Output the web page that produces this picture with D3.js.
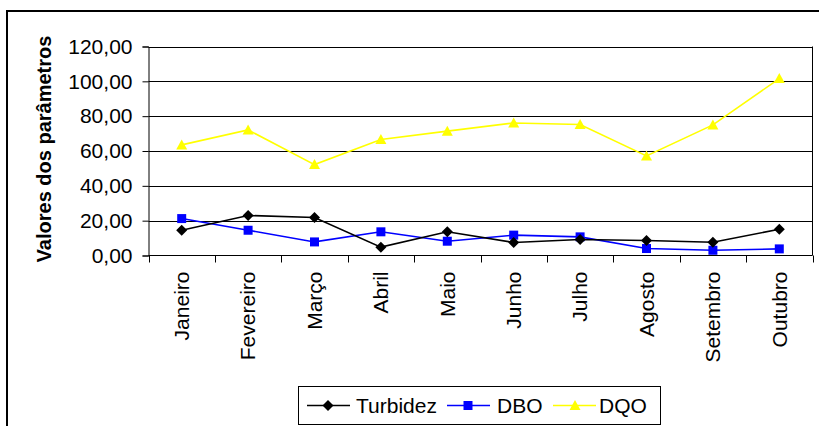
<!DOCTYPE html>
<html><head><meta charset="utf-8">
<script src="https://cdn.jsdelivr.net/npm/d3@7"></script>
<style>body{margin:0;background:#fff}svg{display:block}text{font-family:"Liberation Sans",Arial,sans-serif}</style>
</head><body><svg id="c" width="819" height="426"></svg>
<script>
const categories = ["Janeiro","Fevereiro","Março","Abril","Maio","Junho","Julho","Agosto","Setembro","Outubro"];
const turbidez = [14.5, 23.0, 21.8, 4.8, 13.6, 7.5, 9.2, 8.6, 7.6, 15.1];
const dbo = [21.2, 14.5, 7.8, 13.6, 8.2, 11.7, 10.7, 4.0, 3.0, 3.8];
const dqo = [63.5, 72.1, 52.2, 66.6, 71.4, 76.1, 75.2, 57.2, 75.0, 101.6];
const yTicks = [0, 20, 40, 60, 80, 100, 120];
const seriesNames = ["Turbidez", "DBO", "DQO"];

const svg = d3.select("#c");
const L = 148.5, R = 812.5, T = 46.5, B = 255.5;
const FS = 21;
const x = d3.scaleBand().domain(categories).range([L, R]);
const y = d3.scaleLinear().domain([0, 120]).range([B, T]);
const loc = d3.formatLocale({decimal: ",", thousands: ".", grouping: [3], currency: ["", ""]});
const fmt = loc.format(".2f");

// outer frame
svg.append("rect").attr("x", 7).attr("y", 11).attr("width", 840).attr("height", 440)
  .attr("fill", "none").attr("stroke", "#000").attr("stroke-width", 2);

// gridlines
svg.append("g").selectAll("line").data(yTicks.filter(d => d > 0)).join("line")
  .attr("x1", L).attr("x2", R).attr("y1", d => Math.round(y(d)) + 0.5).attr("y2", d => Math.round(y(d)) + 0.5)
  .attr("stroke", "#000").attr("stroke-width", 1);
// plot border right
svg.append("line").attr("x1", R).attr("x2", R).attr("y1", T).attr("y2", B).attr("stroke", "#000");

// y axis
const yAxis = d3.axisLeft(y).tickValues(yTicks).tickFormat(fmt).tickSize(6).tickPadding(10);
const gy = svg.append("g").attr("transform", `translate(${L},0)`).call(yAxis);
gy.select(".domain").attr("stroke", "#000");
gy.selectAll("text").attr("font-size", FS).attr("fill", "#000").attr("font-family", '"Liberation Sans",Arial,sans-serif');

// x axis (ticks at boundaries)
const gx = svg.append("g").attr("transform", `translate(0,${B})`);
gx.append("line").attr("x1", L).attr("x2", R).attr("stroke", "#000");
const bounds = d3.range(categories.length + 1).map(i => L + i * x.step());
gx.selectAll("line.t").data(bounds).join("line").attr("class", "t")
  .attr("x1", d => Math.round(d) + 0.5).attr("x2", d => Math.round(d) + 0.5).attr("y1", 0).attr("y2", 7).attr("stroke", "#000");
gx.selectAll("text").data(categories).join("text")
  .attr("transform", d => `translate(${x(d) + x.bandwidth() / 2},${16}) rotate(-90)`)
  .attr("text-anchor", "end").attr("dy", "0.35em").attr("font-size", FS).attr("fill", "#000").text(d => d);

// y title
svg.append("text").attr("transform", "translate(51,149) rotate(-90)")
  .attr("text-anchor", "middle").attr("font-size", 20).attr("font-weight", "bold").text("Valores dos parâmetros");

// markers
const markers = {
  diamond: "M0,-5.5L5.5,0L0,5.5L-5.5,0Z",
  square: "M-4.5,-4.5H4.5V4.5H-4.5Z",
  triangle: "M0,-5.5L5.5,4.5H-5.5Z"
};
const series = [
  {name: seriesNames[0], values: turbidez, color: "#000000", marker: "diamond"},
  {name: seriesNames[1], values: dbo, color: "#0000FF", marker: "square"},
  {name: seriesNames[2], values: dqo, color: "#FFFF00", marker: "triangle"}
];
const line = d3.line().x((d, i) => x(categories[i]) + x.bandwidth() / 2).y(d => y(d));
series.slice().reverse().forEach(s => {
  const g = svg.append("g");
  g.append("path").attr("d", line(s.values)).attr("fill", "none").attr("stroke", s.color).attr("stroke-width", 1.6);
  g.selectAll("path.m").data(s.values).join("path").attr("class", "m")
    .attr("d", markers[s.marker])
    .attr("transform", (d, i) => `translate(${x(categories[i]) + x.bandwidth() / 2},${y(d)})`)
    .attr("fill", s.color);
});

// legend
const lg = svg.append("g");
lg.append("rect").attr("x", 298.5).attr("y", 386.5).attr("width", 362).attr("height", 38)
  .attr("fill", "#fff").attr("stroke", "#000");
const legPos = [{lx: 307, mx: 328, tx: 356}, {lx: 447, mx: 468, tx: 497}, {lx: 553, mx: 575, tx: 599}];
series.forEach((s, i) => {
  const p = legPos[i];
  lg.append("line").attr("x1", p.lx).attr("x2", p.lx + 43).attr("y1", 405.5).attr("y2", 405.5)
    .attr("stroke", s.color).attr("stroke-width", 1.6);
  lg.append("path").attr("d", markers[s.marker]).attr("transform", `translate(${p.mx},405.5)`).attr("fill", s.color);
  lg.append("text").attr("x", p.tx).attr("y", 412.5).attr("font-size", FS).text(s.name);
});
</script></body></html>
